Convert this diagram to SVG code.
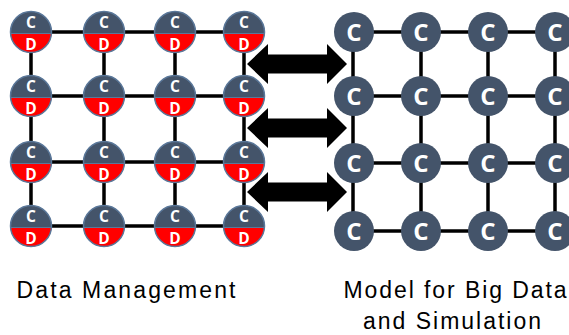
<svg xmlns="http://www.w3.org/2000/svg" xmlns:xlink="http://www.w3.org/1999/xlink" width="569" height="335" viewBox="0 0 569 335">
<style>
.ln{stroke:#000;stroke-width:3.5;fill:none}
.cd{font-family:"Open Sans","Liberation Sans",sans-serif;font-weight:bold;font-size:15.5px;fill:#fff;text-anchor:middle}
.cc{font-family:"Open Sans","Liberation Sans",sans-serif;font-weight:bold;font-size:24px;fill:#fff;text-anchor:middle}
.lbl{font-family:"Liberation Sans",Arial,sans-serif;font-size:23px;fill:#000;text-anchor:middle}
.arr{fill:#000}
</style>
<defs>
<g id="ld">
<circle r="20.5" fill="#44546A"/>
<path d="M-20.45,1.5 A20.5 20.5 0 0 0 20.45,1.5 Z" fill="#FF0000"/>
<line x1="-20.4" y1="1.5" x2="20.4" y2="1.5" stroke="#5a7799" stroke-width="1"/>
<circle r="20.5" fill="none" stroke="#5a7799" stroke-width="1.5"/>
</g>
<circle id="rc" r="20" fill="#44546A"/>
<polygon id="dar" points="0,0 21,-20 21,-9.5 80,-9.5 80,-20 100,0 80,20 80,9.5 21,9.5 21,20"/>
</defs>
<g id="connectors">
<g id="left-grid-lines">
<line class="ln" x1="31" y1="32" x2="244" y2="32"/>
<line class="ln" x1="31" y1="96" x2="244" y2="96"/>
<line class="ln" x1="31" y1="162" x2="244" y2="162"/>
<line class="ln" x1="31" y1="226" x2="244" y2="226"/>
<line class="ln" x1="31" y1="32" x2="31" y2="226"/>
<line class="ln" x1="104" y1="32" x2="104" y2="226"/>
<line class="ln" x1="175" y1="32" x2="175" y2="226"/>
<line class="ln" x1="244" y1="32" x2="244" y2="226"/>
</g>
<g id="right-grid-lines">
<line class="ln" x1="354" y1="32" x2="569" y2="32"/>
<line class="ln" x1="354" y1="96" x2="569" y2="96"/>
<line class="ln" x1="354" y1="163" x2="569" y2="163"/>
<line class="ln" x1="354" y1="231" x2="569" y2="231"/>
<line class="ln" x1="353" y1="32" x2="353" y2="231"/>
<line class="ln" x1="421" y1="32" x2="421" y2="231"/>
<line class="ln" x1="488" y1="32" x2="488" y2="231"/>
<line class="ln" x1="555" y1="32" x2="555" y2="231"/>
</g>
<g id="arrows" class="arr">
<use xlink:href="#dar" x="247" y="64"/>
<use xlink:href="#dar" x="247" y="128"/>
<use xlink:href="#dar" x="247" y="192"/>
</g>
</g>
<g id="dm-r1c1"><use xlink:href="#ld" x="31" y="32"/><text class="cd" x="31" y="28">C</text><text class="cd" x="31" y="50">D</text></g>
<g id="dm-r1c2"><use xlink:href="#ld" x="104" y="32"/><text class="cd" x="104" y="28">C</text><text class="cd" x="104" y="50">D</text></g>
<g id="dm-r1c3"><use xlink:href="#ld" x="175" y="32"/><text class="cd" x="175" y="28">C</text><text class="cd" x="175" y="50">D</text></g>
<g id="dm-r1c4"><use xlink:href="#ld" x="244" y="32"/><text class="cd" x="244" y="28">C</text><text class="cd" x="244" y="50">D</text></g>
<g id="dm-r2c1"><use xlink:href="#ld" x="31" y="96"/><text class="cd" x="31" y="92">C</text><text class="cd" x="31" y="114">D</text></g>
<g id="dm-r2c2"><use xlink:href="#ld" x="104" y="96"/><text class="cd" x="104" y="92">C</text><text class="cd" x="104" y="114">D</text></g>
<g id="dm-r2c3"><use xlink:href="#ld" x="175" y="96"/><text class="cd" x="175" y="92">C</text><text class="cd" x="175" y="114">D</text></g>
<g id="dm-r2c4"><use xlink:href="#ld" x="244" y="96"/><text class="cd" x="244" y="92">C</text><text class="cd" x="244" y="114">D</text></g>
<g id="dm-r3c1"><use xlink:href="#ld" x="31" y="162"/><text class="cd" x="31" y="158">C</text><text class="cd" x="31" y="180">D</text></g>
<g id="dm-r3c2"><use xlink:href="#ld" x="104" y="162"/><text class="cd" x="104" y="158">C</text><text class="cd" x="104" y="180">D</text></g>
<g id="dm-r3c3"><use xlink:href="#ld" x="175" y="162"/><text class="cd" x="175" y="158">C</text><text class="cd" x="175" y="180">D</text></g>
<g id="dm-r3c4"><use xlink:href="#ld" x="244" y="162"/><text class="cd" x="244" y="158">C</text><text class="cd" x="244" y="180">D</text></g>
<g id="dm-r4c1"><use xlink:href="#ld" x="31" y="226"/><text class="cd" x="31" y="222">C</text><text class="cd" x="31" y="244">D</text></g>
<g id="dm-r4c2"><use xlink:href="#ld" x="104" y="226"/><text class="cd" x="104" y="222">C</text><text class="cd" x="104" y="244">D</text></g>
<g id="dm-r4c3"><use xlink:href="#ld" x="175" y="226"/><text class="cd" x="175" y="222">C</text><text class="cd" x="175" y="244">D</text></g>
<g id="dm-r4c4"><use xlink:href="#ld" x="244" y="226"/><text class="cd" x="244" y="222">C</text><text class="cd" x="244" y="244">D</text></g>
<g id="bd-r1c1"><use xlink:href="#rc" x="354" y="32"/><text class="cc" x="354" y="41">C</text></g>
<g id="bd-r1c2"><use xlink:href="#rc" x="421" y="32"/><text class="cc" x="421" y="41">C</text></g>
<g id="bd-r1c3"><use xlink:href="#rc" x="488" y="32"/><text class="cc" x="488" y="41">C</text></g>
<g id="bd-r1c4"><use xlink:href="#rc" x="555" y="32"/><text class="cc" x="555" y="41">C</text></g>
<g id="bd-r2c1"><use xlink:href="#rc" x="354" y="96"/><text class="cc" x="354" y="105">C</text></g>
<g id="bd-r2c2"><use xlink:href="#rc" x="421" y="96"/><text class="cc" x="421" y="105">C</text></g>
<g id="bd-r2c3"><use xlink:href="#rc" x="488" y="96"/><text class="cc" x="488" y="105">C</text></g>
<g id="bd-r2c4"><use xlink:href="#rc" x="555" y="96"/><text class="cc" x="555" y="105">C</text></g>
<g id="bd-r3c1"><use xlink:href="#rc" x="354" y="163"/><text class="cc" x="354" y="172">C</text></g>
<g id="bd-r3c2"><use xlink:href="#rc" x="421" y="163"/><text class="cc" x="421" y="172">C</text></g>
<g id="bd-r3c3"><use xlink:href="#rc" x="488" y="163"/><text class="cc" x="488" y="172">C</text></g>
<g id="bd-r3c4"><use xlink:href="#rc" x="555" y="163"/><text class="cc" x="555" y="172">C</text></g>
<g id="bd-r4c1"><use xlink:href="#rc" x="354" y="231"/><text class="cc" x="354" y="240">C</text></g>
<g id="bd-r4c2"><use xlink:href="#rc" x="421" y="231"/><text class="cc" x="421" y="240">C</text></g>
<g id="bd-r4c3"><use xlink:href="#rc" x="488" y="231"/><text class="cc" x="488" y="240">C</text></g>
<g id="bd-r4c4"><use xlink:href="#rc" x="555" y="231"/><text class="cc" x="555" y="240">C</text></g>
<g id="labels">
<text class="lbl" x="126" y="298" textLength="219">Data Management</text>
<text class="lbl" x="455" y="298" textLength="223">Model for Big Data</text>
<text class="lbl" x="452" y="329" textLength="178">and Simulation</text>
</g>
</svg>
